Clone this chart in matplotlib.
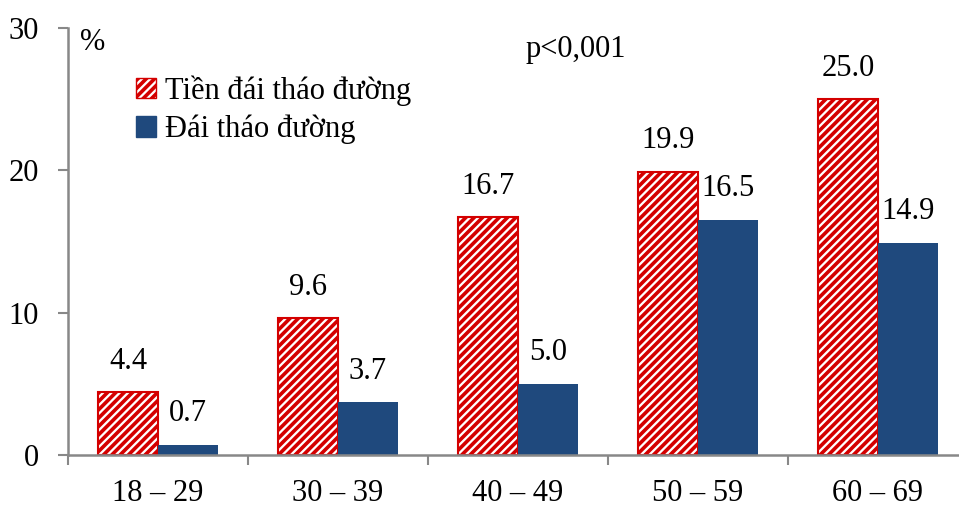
import matplotlib
matplotlib.use("Agg")
import matplotlib.pyplot as plt
import numpy as np
from matplotlib.patches import Patch

categories = ["18 – 29", "30 – 39", "40 – 49", "50 – 59", "60 – 69"]
tien_dtd = [4.4, 9.6, 16.7, 19.9, 25.0]
dtd = [0.7, 3.7, 5.0, 16.5, 14.9]
series_names = ["Tiền đái tháo đường", "Đái tháo đường"]

plt.rcParams['font.family'] = ['Liberation Serif', 'DejaVu Serif']
plt.rcParams['hatch.color'] = '#D40000'
plt.rcParams['hatch.linewidth'] = 2.6

W, H = 959, 508
fig = plt.figure(figsize=(W/100, H/100), dpi=100)
left_px, right_px, top_px, bot_px = 68, 968, 28, 455
ax = fig.add_axes([left_px/W, (H-bot_px)/H, (right_px-left_px)/W, (bot_px-top_px)/H])

x = np.arange(len(categories))
bw = 1/3
red = '#D40000'
blue = '#1F497D'
b1 = ax.bar(x - bw/2, tien_dtd, bw, facecolor='white', edgecolor=red, hatch='////', linewidth=1.5)
b2 = ax.bar(x + bw/2, dtd, bw, color=blue, edgecolor=blue, linewidth=0)

fs = 22
for bars, vals in ((b1, tien_dtd), (b2, dtd)):
    for r, v in zip(bars, vals):
        ax.annotate(f"{v:.1f}", (r.get_x() + r.get_width()/2, v), xytext=(0, 12),
                    textcoords='offset points', ha='center', va='bottom', fontsize=fs)

ax.set_xlim(-0.5, len(categories) - 0.5)
ax.set_ylim(0, 30)
ax.set_yticks([0, 10, 20, 30])
ax.set_xticks(np.arange(-0.5, len(categories), 1.0))
ax.set_xticklabels([])
ax.set_xticks(x, minor=True)
ax.set_xticklabels(categories, minor=True, fontsize=fs)
ax.tick_params(axis='x', which='minor', length=0, pad=17)
ax.tick_params(axis='x', which='major', length=7, width=1.5, color='#888888', direction='out')
ax.tick_params(axis='y', length=7, width=1.5, color='#888888', labelsize=fs, pad=14)
for s in ['top', 'right']:
    ax.spines[s].set_visible(False)
for s in ['left', 'bottom']:
    ax.spines[s].set_color('#888888')
    ax.spines[s].set_linewidth(1.8)

fig.text(80/W, 1 - 42/H, "%", fontsize=fs, ha='left', va='center')
fig.text(576/W, 1 - 50/H, "p<0,001", fontsize=fs, ha='center', va='center')

handles = [Patch(facecolor='white', edgecolor=red, hatch='////', linewidth=1.0),
           Patch(facecolor=blue, edgecolor=blue)]
ax.legend(handles, series_names, loc='upper left', bbox_to_anchor=(136/W, 1 - 75/H),
          bbox_transform=fig.transFigure, frameon=False, fontsize=fs,
          handlelength=0.65, handleheight=0.65, handletextpad=0.3, labelspacing=0.3,
          borderpad=0, borderaxespad=0)

fig.savefig("out.png", dpi=100)
